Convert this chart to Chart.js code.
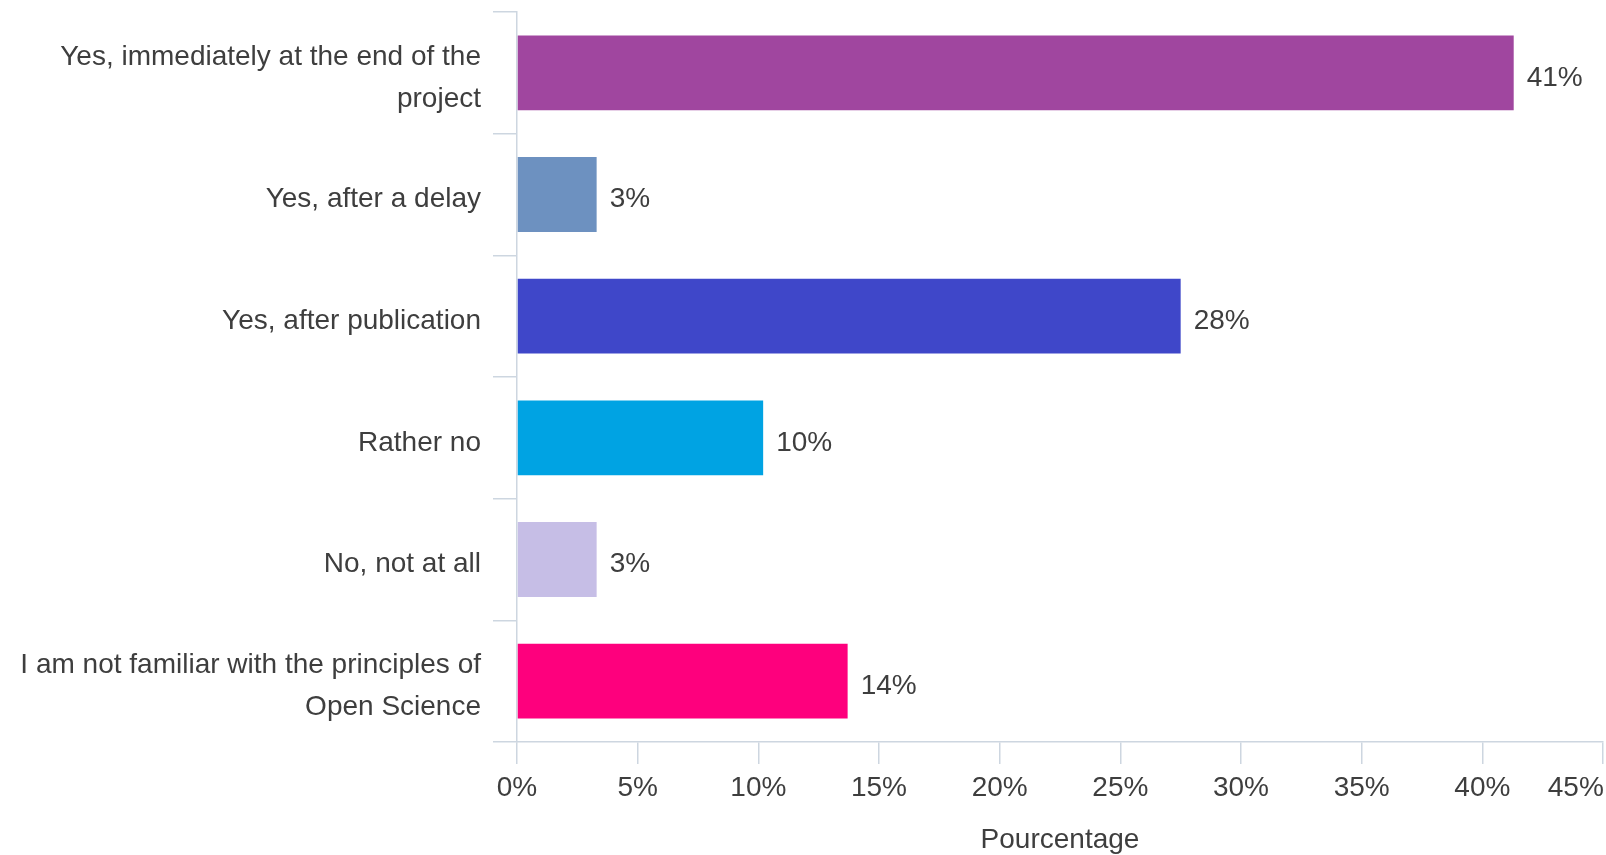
<!DOCTYPE html>
<html>
<head>
<meta charset="utf-8">
<script src="https://cdn.jsdelivr.net/npm/chart.js@4"></script>
<style>
  html, body { margin: 0; padding: 0; background: #fff; }
  #wrap { width: 1606px; height: 855px; position: relative; }
</style>
</head>
<body>
<div id="wrap"><canvas id="chart"></canvas></div>
<script>
/* Open data sharing survey - horizontal bar chart */

const categories = [
  ['Yes, immediately at the end of the', 'project'],
  'Yes, after a delay',
  'Yes, after publication',
  'Rather no',
  'No, not at all',
  ['I am not familiar with the principles of', 'Open Science']
];
const percentages = [41.3, 3.3, 27.5, 10.2, 3.3, 13.7];
const barColors = ['#a0469f', '#6d91c0', '#3f47c9', '#00a3e3', '#c6bee6', '#fe007d'];
const xTicks = [0, 5, 10, 15, 20, 25, 30, 35, 40, 45];
const xTitle = 'Pourcentage';

const FONT = '"Liberation Sans", Arial, Helvetica, sans-serif';
const TEXT = '#3e3e3e';
const AXIS = '#cdd6e0';

Chart.defaults.font.family = FONT;
Chart.defaults.font.size = 28;
Chart.defaults.color = TEXT;

const valueLabels = {
  id: 'valueLabels',
  afterDatasetsDraw(chart) {
    const ctx = chart.ctx;
    const meta = chart.getDatasetMeta(0);
    ctx.save();
    ctx.font = '28px ' + FONT;
    ctx.fillStyle = TEXT;
    ctx.textAlign = 'left';
    ctx.textBaseline = 'middle';
    meta.data.forEach((bar, i) => {
      ctx.fillText(Math.round(percentages[i]) + '%', bar.x + 13, bar.y + 5);
    });
    ctx.restore();
  }
};

new Chart(document.getElementById('chart'), {
  type: 'bar',
  data: {
    labels: categories,
    datasets: [{
      data: percentages,
      backgroundColor: barColors,
      borderWidth: 0,
      barPercentage: 0.615,
      categoryPercentage: 1
    }]
  },
  options: {
    indexAxis: 'y',
    responsive: true,
    maintainAspectRatio: false,
    animation: false,
    layout: { padding: { top: 12, right: 3, left: 0, bottom: 0 } },
    plugins: { legend: { display: false }, tooltip: { enabled: false } },
    scales: {
      x: {
        min: 0, max: 45,
        afterBuildTicks(s) { s.ticks = xTicks.map(v => ({ value: v })); },
        ticks: {
          padding: 7,
          maxRotation: 0,
          callback: (v) => v === 45 ? v + '%       ' : v + '%',
          font: { size: 28, lineHeight: 1.2 }
        },
        grid: { drawOnChartArea: false, drawTicks: true, tickLength: 22, color: AXIS, lineWidth: 1.5 },
        border: { display: true, color: AXIS, width: 1.5 },
        title: { display: true, text: xTitle, font: { size: 28, lineHeight: 1.05 }, padding: { top: 0, bottom: 0 } },
        afterFit(s) { s.height = 113; s.paddingLeft = 0; s.paddingRight = 0; }
      },
      y: {
        ticks: { padding: 12, labelOffset: 5, font: { size: 28, lineHeight: 1.5 } },
        grid: { drawOnChartArea: false, drawTicks: true, tickLength: 24, color: AXIS, lineWidth: 1.5, offset: true },
        border: { display: true, color: AXIS, width: 1.5 },
        afterFit(s) { s.width = 517; s.paddingTop = 0; s.paddingBottom = 0; }
      }
    }
  },
  plugins: [valueLabels]
});
</script>
</body>
</html>
